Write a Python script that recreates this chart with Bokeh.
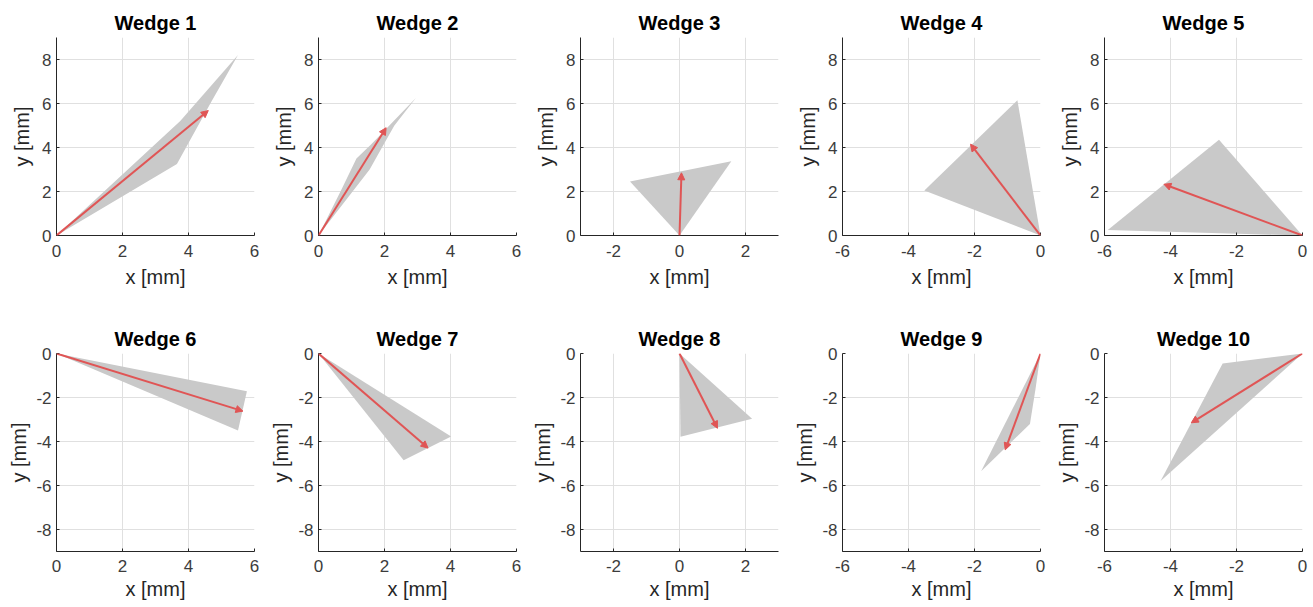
from bokeh.plotting import figure
from bokeh.layouts import column, row
from bokeh.models import Range1d, FixedTicker, Arrow, NormalHead, ColumnDataSource
from bokeh.embed import file_html
from bokeh.resources import INLINE

# ---------------- data ----------------
titles = ["Wedge 1", "Wedge 2", "Wedge 3", "Wedge 4", "Wedge 5",
          "Wedge 6", "Wedge 7", "Wedge 8", "Wedge 9", "Wedge 10"]

wedge1_x = [0, 3.75, 5.5, 4.7, 4.0, 3.65]
wedge1_y = [0, 5.2, 8.2, 6.1, 4.2, 3.25]
wedge2_x = [0, 0.7, 1.15, 1.6, 2.95, 2.3, 2.0, 1.55]
wedge2_y = [0, 2.1, 3.5, 4.15, 6.25, 5.0, 4.2, 3.0]
wedge3_x = [0, -1.5, 1.57]
wedge3_y = [0, 2.45, 3.37]
wedge4_x = [0, -3.52, -0.7]
wedge4_y = [0, 2.05, 6.15]
wedge5_x = [0, -5.9, -2.53]
wedge5_y = [0, 0.25, 4.35]
wedge6_x = [0, 5.77, 5.5]
wedge6_y = [0, -1.72, -3.5]
wedge7_x = [0, 4.02, 2.58]
wedge7_y = [0, -3.77, -4.85]
wedge8_x = [0, 2.2, 0.03]
wedge8_y = [0, -2.97, -3.78]
wedge9_x = [0, -0.15, -0.32, -1.8]
wedge9_y = [0, -1.6, -3.2, -5.35]
wedge10_x = [0, -2.42, -4.3]
wedge10_y = [0, -0.45, -5.8]

wedges_x = [wedge1_x, wedge2_x, wedge3_x, wedge4_x, wedge5_x,
            wedge6_x, wedge7_x, wedge8_x, wedge9_x, wedge10_x]
wedges_y = [wedge1_y, wedge2_y, wedge3_y, wedge4_y, wedge5_y,
            wedge6_y, wedge7_y, wedge8_y, wedge9_y, wedge10_y]

arrow_x_start = [0, 0, 0, 0, 0, 0, 0, 0, 0, 0]
arrow_y_start = [0, 0, 0, 0, 0, 0, 0, 0, 0, 0]
arrow_x_end = [4.6, 2.05, 0.06, -2.12, -4.2, 5.65, 3.32, 1.15, -1.07, -3.37]
arrow_y_end = [5.68, 4.9, 2.85, 4.15, 2.33, -2.62, -4.3, -3.4, -4.38, -3.15]

x_limits = [(0, 6), (0, 6), (-3, 3), (-6, 0), (-6, 0),
            (0, 6), (0, 6), (-3, 3), (-6, 0), (-6, 0)]
x_ticks_pos = [0, 2, 4, 6]
x_ticks_mid = [-2, 0, 2]
x_ticks_neg = [-6, -4, -2, 0]
x_ticks = [x_ticks_pos, x_ticks_pos, x_ticks_mid, x_ticks_neg, x_ticks_neg,
           x_ticks_pos, x_ticks_pos, x_ticks_mid, x_ticks_neg, x_ticks_neg]
x_tick_labels = {0: "0", 2: "2", 4: "4", 6: "6", -2: "-2", -4: "-4", -6: "-6"}
y_limits_top = (0, 9)
y_limits_bottom = (-9, 0)
y_ticks_top = [0, 2, 4, 6, 8]
y_ticks_bottom = [-8, -6, -4, -2, 0]
y_tick_labels = {0: "0", 2: "2", 4: "4", 6: "6", 8: "8",
                 -2: "-2", -4: "-4", -6: "-6", -8: "-8"}

x_label = "x [mm]"
y_label = "y [mm]"

# ---------------- style ----------------
FONT = "Liberation Sans"
GRAY_FILL = "#c9c9c9"
RED = "#e05555"
AXIS_COLOR = "#262626"
TICK_COLOR = "#3c3c3c"
GRID_COLOR = "#e0e0e0"


def make_panel(i):
    top = i < 5
    ylim = y_limits_top if top else y_limits_bottom
    yt = y_ticks_top if top else y_ticks_bottom
    p = figure(frame_width=198, frame_height=198,
               x_range=Range1d(*x_limits[i]), y_range=Range1d(*ylim),
               output_backend="svg", toolbar_location=None,
               min_border_left=56, min_border_right=8,
               min_border_top=37, min_border_bottom=81 if top else 54,
               title=titles[i])
    p.outline_line_color = None
    p.background_fill_color = "white"
    p.border_fill_color = "white"

    p.title.text_font = FONT
    p.title.text_font_size = "20px"
    p.title.text_font_style = "bold"
    p.title.text_color = "black"
    p.title.align = "center"
    p.title.standoff = 7

    p.xaxis.ticker = FixedTicker(ticks=x_ticks[i])
    p.yaxis.ticker = FixedTicker(ticks=yt)
    p.xaxis.major_label_overrides = {t: x_tick_labels[t] for t in x_ticks[i]}
    p.yaxis.major_label_overrides = {t: y_tick_labels[t] for t in yt}
    p.xaxis.axis_label = x_label
    p.yaxis.axis_label = y_label
    for ax in (p.xaxis[0], p.yaxis[0]):
        ax.axis_line_color = AXIS_COLOR
        ax.axis_line_width = 1
        ax.major_tick_line_color = AXIS_COLOR
        ax.major_tick_in = 3
        ax.major_tick_out = 0
        ax.minor_tick_line_color = None
        ax.major_label_text_font = FONT
        ax.major_label_text_font_size = "17px"
        ax.major_label_text_color = TICK_COLOR
        ax.axis_label_text_font = FONT
        ax.axis_label_text_font_size = "20px"
        ax.axis_label_text_font_style = "normal"
        ax.axis_label_text_color = AXIS_COLOR
    p.xaxis.major_label_standoff = 9 if top else 8
    p.xaxis.axis_label_standoff = 6 if top else 3
    p.yaxis.major_label_standoff = 5
    p.yaxis.axis_label_standoff = 6 if top else 3

    p.xgrid.grid_line_color = GRID_COLOR
    p.ygrid.grid_line_color = GRID_COLOR

    p.patch(x=wedges_x[i], y=wedges_y[i], fill_color=GRAY_FILL, line_color=None)

    src = ColumnDataSource(dict(x0=[arrow_x_start[i]], y0=[arrow_y_start[i]],
                                x1=[arrow_x_end[i]], y1=[arrow_y_end[i]]))
    p.add_layout(Arrow(end=NormalHead(size=7, fill_color=RED, line_color=RED, line_width=1),
                       x_start="x0", y_start="y0", x_end="x1", y_end="y1",
                       source=src, line_color=RED, line_width=2))
    return p


panels = [make_panel(i) for i in range(10)]
layout = column(row(*panels[:5]), row(*panels[5:]))

open("out.html", "w").write(file_html(layout, INLINE))
